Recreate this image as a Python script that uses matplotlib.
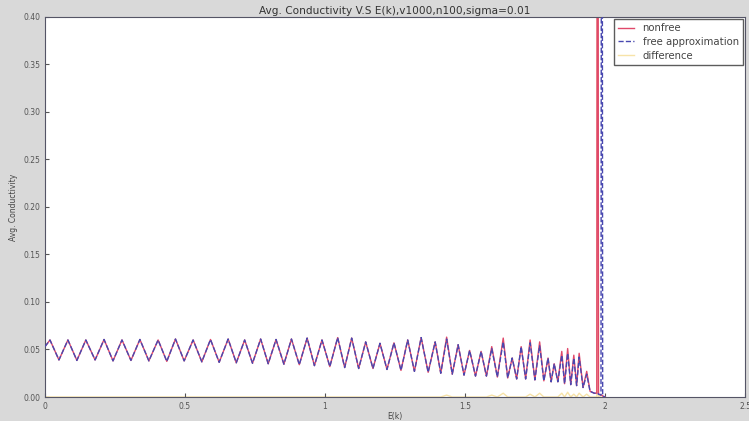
import numpy as np
import matplotlib.pyplot as plt

# energy grid (peaks / troughs of the conductivity curve) and nonfree values
energy = [0.000, 0.018, 0.050, 0.082, 0.114, 0.146, 0.179, 0.211, 0.243, 0.275,
          0.307, 0.339, 0.371, 0.404, 0.435, 0.466, 0.497, 0.529, 0.560, 0.591,
          0.622, 0.654, 0.683, 0.713, 0.741, 0.770, 0.797, 0.825, 0.853, 0.880,
          0.908, 0.936, 0.962, 0.989, 1.017, 1.045, 1.070, 1.095, 1.120, 1.145,
          1.171, 1.196, 1.221, 1.246, 1.271, 1.295, 1.319, 1.343, 1.368, 1.393,
          1.413, 1.434, 1.454, 1.475, 1.496, 1.516, 1.537, 1.557, 1.576, 1.595,
          1.615, 1.636, 1.652, 1.668, 1.684, 1.700, 1.716, 1.732, 1.749, 1.766,
          1.781, 1.796, 1.807, 1.818, 1.831, 1.845, 1.855, 1.866, 1.877, 1.888,
          1.898, 1.907, 1.921, 1.934, 1.946, 1.961, 1.970, 1.973, 1.976, 1.985,
          1.988, 1.991, 2.000]
nonfree = [0.053, 0.060, 0.039, 0.060, 0.0385, 0.060, 0.039, 0.0605, 0.038, 0.060,
           0.0385, 0.0605, 0.038, 0.060, 0.0375, 0.061, 0.038, 0.060, 0.037, 0.0605,
           0.0365, 0.061, 0.036, 0.060, 0.0355, 0.061, 0.035, 0.0605, 0.0345, 0.061,
           0.034, 0.062, 0.033, 0.060, 0.032, 0.0625, 0.031, 0.062, 0.030, 0.058,
           0.030, 0.0565, 0.029, 0.057, 0.028, 0.060, 0.027, 0.0625, 0.026, 0.058,
           0.025, 0.063, 0.024, 0.055, 0.023, 0.049, 0.022, 0.048, 0.022, 0.053,
           0.021, 0.062, 0.020, 0.041, 0.019, 0.053, 0.019, 0.060, 0.018, 0.058,
           0.017, 0.041, 0.016, 0.035, 0.016, 0.048, 0.014, 0.051, 0.013, 0.044,
           0.012, 0.046, 0.010, 0.027, 0.006, 0.004, 0.004, 1.200, 0.003, 0.002,
           0.002, 0.001, 0.000]

# nonfree minus free approximation, nonzero only at these energies
diff_energy = [1.434, 1.595, 1.636, 1.732, 1.766, 1.845, 1.866, 1.888, 1.907, 1.934, 1.973, 1.988]
diff_value = [0.002, 0.002, 0.004, 0.003, 0.004, 0.004, 0.005, 0.003, 0.004, 0.003, 1.196, -1.198]

x_ticks = [0, 0.5, 1, 1.5, 2, 2.5]
x_ticklabels = ["0", "0.5", "1", "1.5", "2", "2.5"]
y_ticks = [0.00, 0.05, 0.10, 0.15, 0.20, 0.25, 0.30, 0.35, 0.40]

energy = np.array(energy)
nonfree = np.array(nonfree)
difference = np.zeros_like(nonfree)
for e, d in zip(diff_energy, diff_value):
    difference[np.isclose(energy, e)] = d
free = nonfree - difference

fig = plt.figure(figsize=(7.49, 4.21), dpi=100, facecolor="#d9d9d9")
ax = fig.add_axes([0.060, 0.057, 0.935, 0.903])

ax.plot(energy, difference, color="#f7e3a8", lw=1.0, label="difference", zorder=1)
ax.plot(energy, nonfree, color="#e0486a", lw=1.0, label="nonfree", zorder=2)
ax.plot(energy, free, color="#4848b0", lw=1.0, ls="--", label="free approximation", zorder=3)

ax.set_xlim(0, 2.5)
ax.set_ylim(0, 0.40)
ax.set_xticks(x_ticks)
ax.set_xticklabels(x_ticklabels)
ax.set_yticks(y_ticks)
ax.set_yticklabels([f"{v:.2f}" for v in y_ticks])
ax.tick_params(labelsize=5.5, colors="#555555", length=3, direction="in")
for s in ax.spines.values():
    s.set_color("#555566")

ax.set_title("Avg. Conductivity V.S E(k),v1000,n100,sigma=0.01", fontsize=7.6, color="#333333", pad=2)
ax.set_xlabel("E(k)", fontsize=5.5, color="#444444", labelpad=1)
ax.set_ylabel("Avg. Conductivity", fontsize=5.5, color="#444444", labelpad=4)

handles, labels = ax.get_legend_handles_labels()
order = [1, 2, 0]
leg = ax.legend([handles[i] for i in order], [labels[i] for i in order],
                loc="upper right", fontsize=7.3, frameon=True, fancybox=False,
                borderaxespad=0.25, handlelength=1.6, labelspacing=0.35)
leg.get_frame().set_edgecolor("#333333")
for t in leg.get_texts():
    t.set_color("#444444")

fig.savefig("out.png", dpi=100, facecolor=fig.get_facecolor())
